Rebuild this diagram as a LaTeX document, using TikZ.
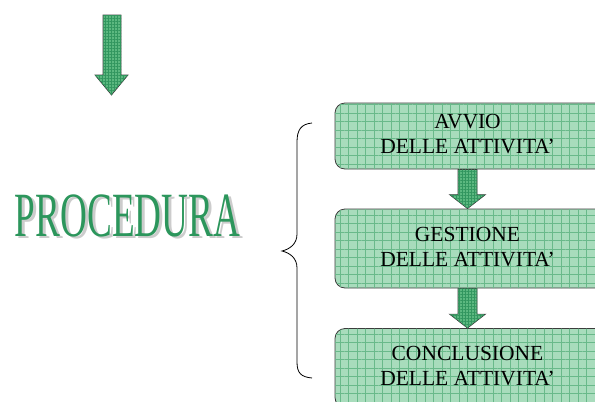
\documentclass[tikz,border=0pt]{standalone}
\usepackage{fontspec}
\setmainfont{Liberation Serif}
\usetikzlibrary{patterns.meta}
\definecolor{boxgreen}{RGB}{168,220,188}
\definecolor{boxgrid}{RGB}{105,185,138}
\definecolor{arrowgreen}{RGB}{92,184,128}
\definecolor{arrowgrid}{RGB}{50,150,95}
\definecolor{procgreen}{RGB}{44,150,92}
\definecolor{edgegrey}{RGB}{60,60,60}
\newcommand{\boxtext}[1]{\begin{tabular}{@{}c@{}}#1\end{tabular}\hspace*{20pt}}
\begin{document}
\begin{tikzpicture}[x=1pt,y=-1pt,
  stepbox/.style={draw=edgegrey, line width=0.8pt, rounded corners=10pt,
    fill=boxgreen, minimum width=285pt, align=center,
    font=\fontsize{21.5}{25}\selectfont, inner sep=0pt,
    postaction={pattern={Hatch[distance=8.5pt,line width=0.8pt]}, pattern color=boxgrid}},
  fatarrow/.style={draw=edgegrey, line width=0.7pt, fill=arrowgreen,
    postaction={pattern={Hatch[distance=3pt,line width=0.6pt]}, pattern color=arrowgrid}},
  brace/.style={draw=black, line width=0.8pt}
]
\useasboundingbox (0,0) rectangle (595,402);

% top arrow
\path[fatarrow] (103,15) -- (121,15) -- (121,75) -- (128,75) -- (111.5,95) -- (95,75) -- (103,75) -- cycle;

% PROCEDURA title
\node[text=gray!40, xscale=0.59, font=\fontsize{63}{63}\selectfont, inner sep=0pt] (titleshadow) at (130.5,218) {PROCEDURA};
\node[text=procgreen, xscale=0.59, font=\fontsize{63}{63}\selectfont, inner sep=0pt] (title) at (127.5,216) {PROCEDURA};

% brace
\draw[brace] (312,123) .. controls (301,124) and (297,130) .. (297,142) -- (297,234)
  .. controls (297,244) and (290,249) .. (282,251)
  .. controls (290,253) and (297,258) .. (297,268) -- (297,362)
  .. controls (297,373) and (301,377) .. (312,378);

% boxes
\node[stepbox, minimum height=66pt] (b1) at (477.5,136) {\boxtext{AVVIO\\DELLE ATTIVITA’}};
\node[stepbox, minimum height=79pt] (b2) at (477.5,248.5) {\boxtext{GESTIONE\\DELLE ATTIVITA’}};
\node[stepbox, minimum height=79pt] (b3) at (477.5,368) {\boxtext{CONCLUSIONE\\DELLE ATTIVITA’}};

% arrows between boxes (centred under the text, 10pt left of node centre)
\path[fatarrow] ([xshift=-19.5pt]b1.south) -- ([xshift=-0.5pt]b1.south) -- ([xshift=-0.5pt,yshift=14pt]b2.north)
  -- ([xshift=8pt,yshift=14pt]b2.north) -- ([xshift=-10pt]b2.north) -- ([xshift=-28pt,yshift=14pt]b2.north)
  -- ([xshift=-19.5pt,yshift=14pt]b2.north) -- cycle;
\path[fatarrow] ([xshift=-19.5pt]b2.south) -- ([xshift=-0.5pt]b2.south) -- ([xshift=-0.5pt,yshift=14pt]b3.north)
  -- ([xshift=8pt,yshift=14pt]b3.north) -- ([xshift=-10pt]b3.north) -- ([xshift=-28pt,yshift=14pt]b3.north)
  -- ([xshift=-19.5pt,yshift=14pt]b3.north) -- cycle;
\end{tikzpicture}
\end{document}
